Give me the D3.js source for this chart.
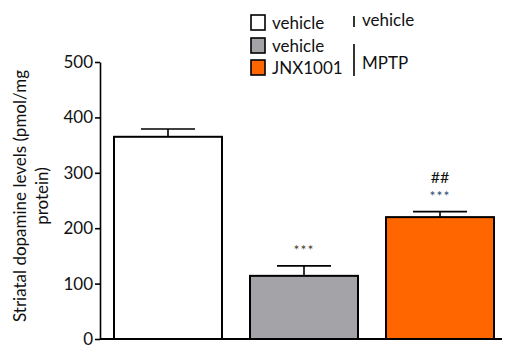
<!DOCTYPE html>
<html lang="en">
<head>
    <meta charset="UTF-8">
    <title>Striatal dopamine levels</title>
    <script src="https://d3js.org/d3.v7.min.js"></script>
    <style>
        body { margin: 0; background: #fff; }
        text { font-family: Lato, "Open Sans", sans-serif; fill: #111; }
        .axis text { font-size: 17px; }
        .axis path, .axis line { stroke: #000; stroke-width: 1.6px; }
    </style>
</head>
<body>
<script>
    // Data
    const groups = ['vehicle', 'MPTP + vehicle', 'MPTP + JNX1001'];
    const means = [365, 114, 220];
    const errors = [14, 18, 10];
    const fills = ['#ffffff', '#a3a3a8', '#ff6600'];
    const yTicks = [0, 100, 200, 300, 400, 500];
    const legendLabels = ['vehicle', 'vehicle', 'JNX1001'];
    const sigStars = ['', '***', '***'];
    const sigHash = ['', '', '##'];

    const width = 520, height = 353;
    const margin = { left: 100, top: 62, bottom: 14, right: 19 };

    const svg = d3.select('body').append('svg')
        .attr('width', width)
        .attr('height', height);

    const y = d3.scaleLinear()
        .domain([0, 500])
        .range([height - margin.bottom, margin.top]);

    const x = d3.scaleBand()
        .domain(groups)
        .range([114, 494])
        .paddingInner(0.206)
        .paddingOuter(0);

    // Y axis
    svg.append('g')
        .attr('class', 'axis')
        .attr('transform', `translate(${margin.left},0)`)
        .call(d3.axisLeft(y).tickValues(yTicks).tickSize(5).tickSizeOuter(0).tickPadding(2));

    // baseline
    svg.append('line')
        .attr('x1', margin.left).attr('x2', width - margin.right + 1)
        .attr('y1', y(0)).attr('y2', y(0))
        .attr('stroke', '#000').attr('stroke-width', 1.8);

    // Y axis title
    const title = svg.append('text')
        .attr('transform', `translate(26,196) rotate(-90)`)
        .attr('text-anchor', 'middle')
        .style('font-size', '17px');
    title.append('tspan').attr('x', 0).attr('dy', 0).text('Striatal dopamine levels (pmol/mg');
    title.append('tspan').attr('x', 0).attr('dy', 22).text('protein)');

    // Error bars (drawn below the bars)
    const err = svg.selectAll('.err')
        .data(groups)
        .enter().append('g');
    err.append('line')
        .attr('x1', d => x(d) + x.bandwidth() / 2)
        .attr('x2', d => x(d) + x.bandwidth() / 2)
        .attr('y1', (d, i) => y(means[i]))
        .attr('y2', (d, i) => y(means[i] + errors[i]))
        .attr('stroke', '#000').attr('stroke-width', 1.6);
    err.append('line')
        .attr('x1', d => x(d) + x.bandwidth() / 2 - 27)
        .attr('x2', d => x(d) + x.bandwidth() / 2 + 27)
        .attr('y1', (d, i) => y(means[i] + errors[i]))
        .attr('y2', (d, i) => y(means[i] + errors[i]))
        .attr('stroke', '#000').attr('stroke-width', 1.6);

    // Bars
    svg.selectAll('.bar')
        .data(groups)
        .enter().append('rect')
        .attr('x', d => x(d))
        .attr('y', (d, i) => y(means[i]))
        .attr('width', x.bandwidth())
        .attr('height', (d, i) => y(0) - y(means[i]))
        .attr('fill', (d, i) => fills[i])
        .attr('stroke', '#000')
        .attr('stroke-width', 2);

    // Significance marks
    svg.selectAll('.stars')
        .data(groups)
        .enter().append('text')
        .attr('x', d => x(d) + x.bandwidth() / 2)
        .attr('y', (d, i) => y(means[i] + errors[i]) - 11)
        .attr('text-anchor', 'middle')
        .style('font-size', '14px')
        .style('fill', (d, i) => i === 2 ? '#2f4a70' : '#4a3f2c')
        .style('letter-spacing', '1px')
        .text((d, i) => sigStars[i]);

    svg.selectAll('.hash')
        .data(groups)
        .enter().append('text')
        .attr('x', d => x(d) + x.bandwidth() / 2)
        .attr('y', (d, i) => y(means[i] + errors[i]) - 29)
        .attr('text-anchor', 'middle')
        .style('font-size', '16px')
        .text((d, i) => sigHash[i]);

    // Legend
    const legendY = [15, 38, 60];
    const legend = svg.selectAll('.legend')
        .data(legendLabels)
        .enter().append('g')
        .attr('transform', (d, i) => `translate(251,${legendY[i]})`);
    legend.append('rect')
        .attr('width', 14).attr('height', 15)
        .attr('fill', (d, i) => fills[i])
        .attr('stroke', '#000').attr('stroke-width', 1.6);
    legend.append('text')
        .attr('x', 21).attr('y', 14)
        .style('font-size', '17px')
        .text(d => d);

    svg.append('line')
        .attr('x1', 354).attr('x2', 354).attr('y1', 16).attr('y2', 27)
        .attr('stroke', '#000').attr('stroke-width', 1.6);
    svg.append('text').attr('x', 362).attr('y', 26)
        .style('font-size', '17px').text('vehicle');
    svg.append('line')
        .attr('x1', 354).attr('x2', 354).attr('y1', 44).attr('y2', 76)
        .attr('stroke', '#000').attr('stroke-width', 1.6);
    svg.append('text').attr('x', 362).attr('y', 69)
        .style('font-size', '17px').text('MPTP');
</script>
</body>
</html>
